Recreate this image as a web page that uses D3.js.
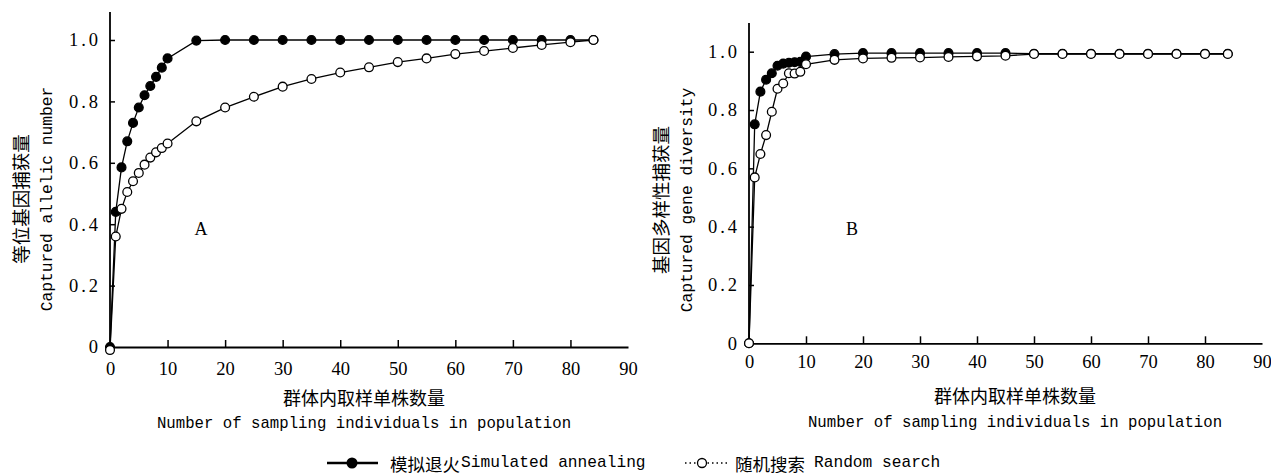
<!DOCTYPE html>
<html><head><meta charset="utf-8">
<script src="https://cdn.jsdelivr.net/npm/d3@7"></script>
<style>
html,body{margin:0;padding:0;background:#fff;}
svg{display:block;}
</style>
</head><body>
<svg id="c" width="1271" height="476"></svg>
<script>
// ---- data ----
const sampleSizes = [0,1,2,3,4,5,6,7,8,9,10,15,20,25,30,35,40,45,50,55,60,65,70,75,80,84];
const xTicks = [0,10,20,30,40,50,60,70,80,90];
const yTicks = [0,0.2,0.4,0.6,0.8,1.0];

const alleleSA = [0,0.44,0.585,0.67,0.73,0.78,0.82,0.85,0.88,0.91,0.94,0.998,1,1,1,1,1,1,1,1,1,1,1,1,1,1];
const alleleRS = [-0.01,0.36,0.45,0.505,0.54,0.567,0.594,0.617,0.634,0.648,0.663,0.735,0.78,0.815,0.848,0.873,0.894,0.911,0.928,0.94,0.954,0.964,0.974,0.984,0.993,1.0];

const diversitySA = [0,0.751,0.863,0.904,0.926,0.952,0.959,0.962,0.964,0.965,0.983,0.992,0.995,0.995,0.995,0.995,0.995,0.995,0.993,0.993,0.993,0.993,0.993,0.993,0.993,0.993];
const diversityRS = [0,0.569,0.649,0.714,0.794,0.873,0.891,0.926,0.925,0.931,0.957,0.972,0.977,0.979,0.980,0.982,0.984,0.986,0.992,0.992,0.992,0.992,0.992,0.992,0.992,0.992];

const panels = [
  {letter:"A", sa:alleleSA, rs:alleleRS, yCn:"等位基因捕获量", yEn:"Captured allelic number",
   x0:110, x1:628, y0:347, y1:40, top:12, letterPos:[201,229], yCnX:20, yEnX:47, yLabY:199,
   tickY:369, cnY:397, enY:424, xMid:364},
  {letter:"B", sa:diversitySA, rs:diversityRS, yCn:"基因多样性捕获量", yEn:"Captured gene diversity",
   x0:749, x1:1262, y0:343.3, y1:51.7, top:23, letterPos:[852,229], yCnX:660, yEnX:687, yLabY:200,
   tickY:362, cnY:395, enY:423, xMid:1015}
];
const xCn = "群体内取样单株数量";
const xEn = "Number of sampling individuals in population";
const legendSA = ["模拟退火","Simulated annealing"];
const legendRS = ["随机搜索","Random search"];

const CN = "'Noto Sans CJK SC', sans-serif";
const MONO = "'Liberation Mono', monospace";
const SERIF = "'Liberation Serif', serif";

const svg = d3.select("#c");

panels.forEach(p => {
  const x = d3.scaleLinear().domain([0,90]).range([p.x0,p.x1]);
  const y = d3.scaleLinear().domain([0,1]).range([p.y0,p.y1]);
  const g = svg.append("g");

  // x axis
  const xa = g.append("g").attr("transform",`translate(0,${p.y0})`)
    .call(d3.axisBottom(x).tickValues(xTicks).tickSize(-7).tickSizeOuter(0)
      .tickFormat(d3.format("d")));
  xa.select(".domain").attr("stroke","#000").attr("stroke-width",1.8);
  xa.selectAll(".tick line").attr("stroke","#000").attr("stroke-width",1.5)
    .filter(d => d===0 || d===90).remove();
  xa.selectAll(".tick text").attr("font-family",SERIF).attr("font-size",18.5).attr("fill","#000")
    .attr("y", p.tickY - p.y0).attr("dy",null).attr("dominant-baseline","central");

  // y axis
  const ya = g.append("g").attr("transform",`translate(${p.x0},0)`)
    .call(d3.axisLeft(y).tickValues(yTicks).tickSize(-5).tickSizeOuter(0).tickPadding(9)
      .tickFormat(d => d===0 ? "0" : d3.format(".1f")(d)));
  ya.select(".domain").attr("d",`M0,${y(0)}V${p.top}`).attr("stroke","#000").attr("stroke-width",1.8);
  ya.selectAll(".tick line").attr("stroke","#000").attr("stroke-width",1.5).filter(d=>d===0).remove();
  ya.selectAll(".tick text").attr("font-family",SERIF).attr("font-size",18.5).attr("fill","#000")
    .attr("letter-spacing","3px");

  // axis titles
  g.append("text").attr("x",p.xMid).attr("y",p.cnY).attr("dominant-baseline","central")
    .attr("text-anchor","middle").attr("font-family",CN).attr("font-size",18).text(xCn);
  g.append("text").attr("x",p.xMid).attr("y",p.enY).attr("dominant-baseline","central")
    .attr("text-anchor","middle").attr("font-family",MONO).attr("font-size",15.7).text(xEn);
  g.append("text").attr("transform",`translate(${p.yCnX},${p.yLabY}) rotate(-90)`)
    .attr("text-anchor","middle").attr("dominant-baseline","central")
    .attr("font-family",CN).attr("font-size",18.5).text(p.yCn);
  g.append("text").attr("transform",`translate(${p.yEnX},${p.yLabY}) rotate(-90)`)
    .attr("text-anchor","middle").attr("dominant-baseline","central")
    .attr("font-family",MONO).attr("font-size",16.3).text(p.yEn);

  // panel letter
  g.append("text").attr("x",p.letterPos[0]).attr("y",p.letterPos[1]).attr("text-anchor","middle")
    .attr("dominant-baseline","central").attr("font-family",SERIF).attr("font-size",18).text(p.letter);

  const line = d3.line().x((d,i)=>x(sampleSizes[i])).y(d=>y(d));
  [ {vals:p.sa, fill:"#000"}, {vals:p.rs, fill:"#fff"} ].forEach(s => {
    g.append("path").datum(s.vals).attr("d",line).attr("fill","none")
      .attr("stroke","#000").attr("stroke-width",1.3);
  });
  [ {vals:p.sa, fill:"#000"}, {vals:p.rs, fill:"#fff"} ].forEach(s => {
    g.append("g").selectAll("circle").data(s.vals).join("circle")
      .attr("cx",(d,i)=>x(sampleSizes[i])).attr("cy",d=>y(d))
      .attr("r",4.4).attr("fill",s.fill).attr("stroke","#000").attr("stroke-width",1.3);
  });
});

// legend
const lg = svg.append("g");
const ly = 463;
lg.append("line").attr("x1",327).attr("x2",378).attr("y1",ly).attr("y2",ly)
  .attr("stroke","#000").attr("stroke-width",2.5);
lg.append("circle").attr("cx",352).attr("cy",ly).attr("r",5.5).attr("fill","#000");
lg.append("text").attr("x",390).attr("y",ly).attr("dominant-baseline","central")
  .attr("font-family",CN).attr("font-size",17.5).text(legendSA[0]);
lg.append("text").attr("x",461).attr("y",ly).attr("dominant-baseline","central")
  .attr("font-family",MONO).attr("font-size",16.2).text(legendSA[1]);

lg.append("line").attr("x1",685).attr("x2",730).attr("y1",ly).attr("y2",ly)
  .attr("stroke","#000").attr("stroke-width",1.5).attr("stroke-dasharray","1.5,3");
lg.append("circle").attr("cx",702).attr("cy",ly).attr("r",4.5).attr("fill","#fff")
  .attr("stroke","#000").attr("stroke-width",1.3);
lg.append("text").attr("x",735).attr("y",ly).attr("dominant-baseline","central")
  .attr("font-family",CN).attr("font-size",17.5).text(legendRS[0]);
lg.append("text").attr("x",814).attr("y",ly).attr("dominant-baseline","central")
  .attr("font-family",MONO).attr("font-size",16.2).text(legendRS[1]);
</script>
</body></html>
